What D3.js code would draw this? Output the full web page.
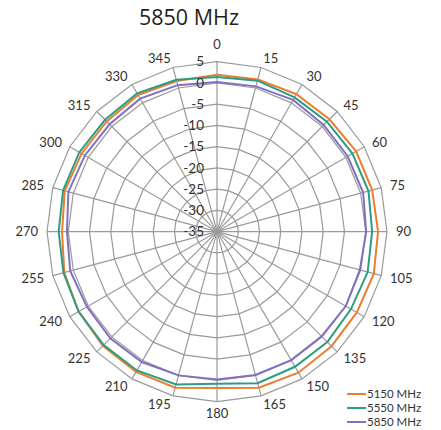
<!DOCTYPE html>
<html><head><meta charset="utf-8">
<script src="https://cdn.jsdelivr.net/npm/d3@7"></script>
<style>body{margin:0;background:#fff;} svg{display:block;}</style>
</head><body>
<svg id="chart" width="441" height="430"></svg>
<script>
const title = "5850 MHz";
const angles = [0,15,30,45,60,75,90,105,120,135,150,165,180,195,210,225,240,255,270,285,300,315,330,345];
const radialTicks = [5,0,-5,-10,-15,-20,-25,-30,-35];
const seriesNames = ["5150 MHz","5550 MHz","5850 MHz"];
const seriesColors = ["#ED7D31","#2A9D82","#8170C2"];
const s5150 = [1.95,2.1,2.35,2.4,2.8,2.8,2.9,3.2,3.0,3.1,3.3,3.0,1.8,3.0,3.1,3.0,2.6,2.2,1.45,2.1,1.8,1.7,2.15,1.7];
const s5550 = [1.4,1.8,1.5,1.6,1.8,1.9,1.5,1.7,1.4,1.7,1.7,1.9,0.8,2.2,2.7,2.7,2.6,2.4,2.25,2.5,2.4,2.25,2.6,2.0];
const s5850 = [0.2,0.4,0.8,0.5,0.5,0.6,0.1,-0.2,0.0,-0.2,-0.1,-0.1,-0.2,0.0,0.4,0.5,0.35,0.75,0.3,1.2,0.9,0.75,1.15,0.7];
const seriesValues = [s5150, s5550, s5850];

const svg = d3.select("#chart");
const cx = 217, cy = 231.7, R = 170;
const r = d3.scaleLinear().domain([-35, 5]).range([0, R]);
const ang = d3.scaleLinear().domain([0, 360]).range([0, 2*Math.PI]);
const g = svg.append("g").attr("transform", `translate(${cx},${cy})`);
const pt = (a, v) => [r(v)*Math.sin(ang(a)), -r(v)*Math.cos(ang(a))];

const gridColor = "#9a9a9a";
// rings
radialTicks.filter(t => t > -35).forEach(t => {
  g.append("path")
    .attr("d", d3.line()(angles.map(a => pt(a, t))) + "Z")
    .attr("fill", "none").attr("stroke", gridColor).attr("stroke-width", 1.2);
});
// spokes
g.selectAll("line.spoke").data(angles).join("line")
  .attr("class","spoke")
  .attr("x1",0).attr("y1",0)
  .attr("x2", a => pt(a,5)[0]).attr("y2", a => pt(a,5)[1])
  .attr("stroke", gridColor).attr("stroke-width", 1.2);

// series
const line = d3.line().curve(d3.curveLinearClosed);
seriesValues.forEach((vals, i) => {
  g.append("path")
    .attr("d", line(angles.map((a, j) => pt(a, vals[j]))))
    .attr("fill","none").attr("stroke", seriesColors[i]).attr("stroke-width", 2);
});

// radial tick labels
g.selectAll("text.rt").data(radialTicks).join("text")
  .attr("class","rt")
  .attr("x", -13).attr("y", d => -r(d))
  .attr("dy","0.35em")
  .attr("text-anchor","end")
  .attr("font-family","Lato, 'Open Sans', sans-serif").attr("font-size", 13.5)
  .attr("fill","#333")
  .text(d => d);

// angle labels
const LR = R + 9;
g.selectAll("text.al").data(angles).join("text")
  .attr("class","al")
  .attr("x", a => LR*Math.sin(ang(a)))
  .attr("y", a => -LR*Math.cos(ang(a)))
  .attr("dy", a => a === 0 ? "-0.3em" : (a === 180 ? "0.55em" : "0.35em"))
  .attr("text-anchor", a => Math.abs(Math.sin(ang(a))) < 0.01 ? "middle" : (Math.sin(ang(a)) > 0 ? "start" : "end"))
  .attr("font-family","Lato, 'Open Sans', sans-serif").attr("font-size", 13)
  .attr("fill","#333")
  .text(a => a);

// title
svg.append("text").attr("x", 189).attr("y", 25).attr("text-anchor","middle")
  .attr("font-family","'Open Sans', Lato, sans-serif").attr("font-size", 21.5)
  .attr("fill","#1f1f1f").text(title);

// legend
const lg = svg.append("g");
seriesNames.forEach((n, i) => {
  const y = 394 + i*14;
  lg.append("line").attr("x1",347).attr("x2",366).attr("y1",y).attr("y2",y)
    .attr("stroke", seriesColors[i]).attr("stroke-width", 2);
  lg.append("text").attr("x",367).attr("y",y).attr("dy","0.35em")
    .attr("font-family","Lato, sans-serif").attr("font-size", 11.5)
    .attr("fill","#333").text(n);
});
</script>
</body></html>
